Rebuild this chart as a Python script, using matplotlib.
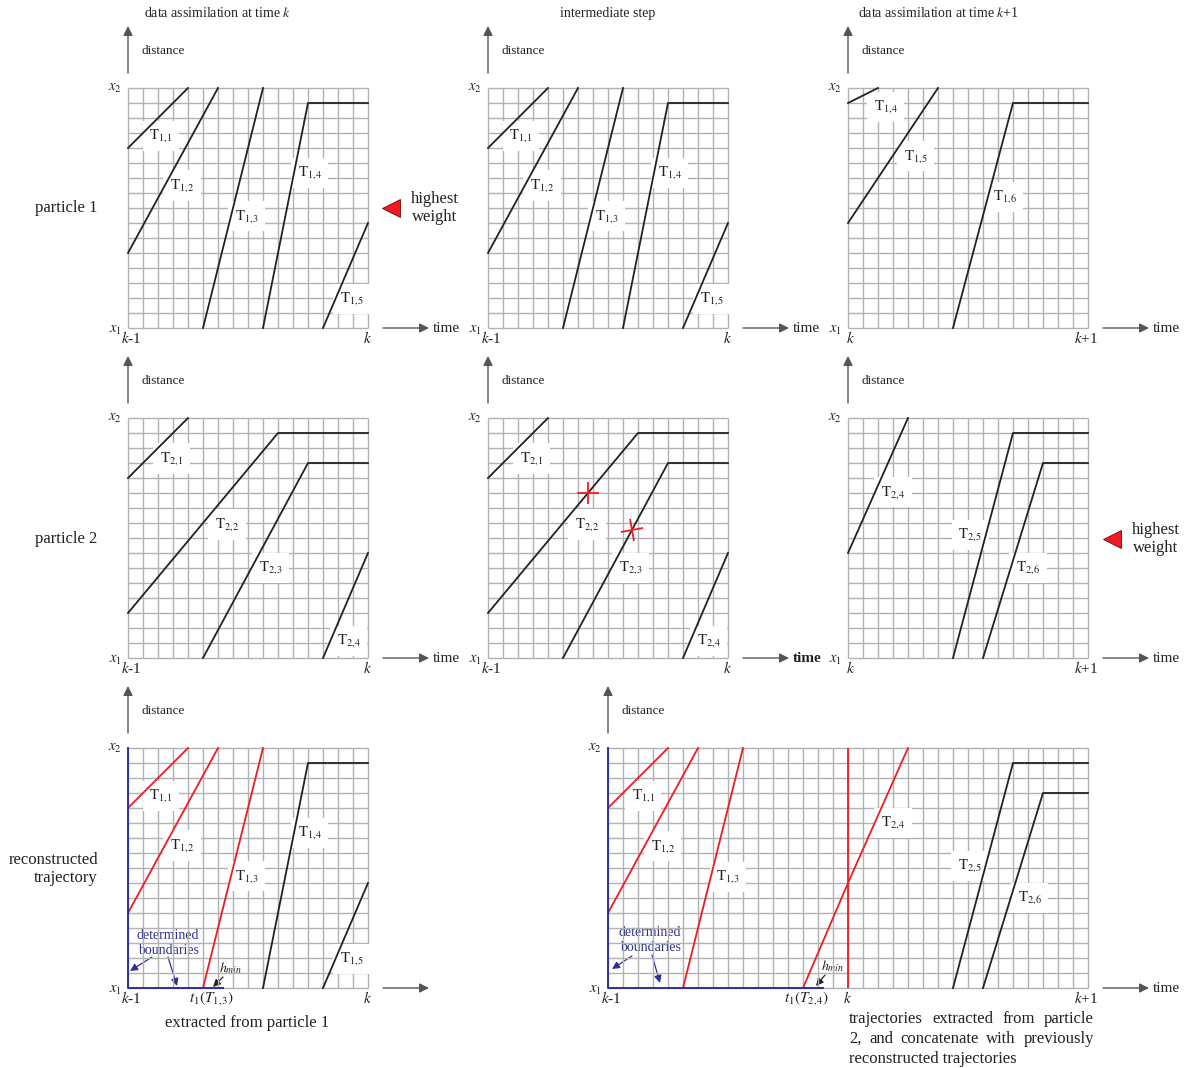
import matplotlib

matplotlib.use("Agg")
import matplotlib.pyplot as plt
from matplotlib.markers import MarkerStyle
from matplotlib.transforms import Affine2D

W, H = 1194, 1068
CELL = 15

# ---- data (time / distance in grid cells) ----
n_rows = 16
n_cols = 16
n_cols_wide = 32
h_min = 1.3

# particle 1, window k-1 .. k
p1_k_names = ["1,1", "1,2", "1,3", "1,4", "1,5"]
p1_k_t = [[0, 4], [0, 6], [5, 9], [9, 12, 16], [13, 16]]
p1_k_x = [[12, 16], [5, 16], [0, 16], [0, 15, 15], [0, 7]]
p1_k_lab = [(2.2, 12.8), (3.6, 9.5), (7.9, 7.45), (12.1, 10.35), (14.9, 1.95)]

# particle 1, window k .. k+1
p1_k1_names = ["1,4", "1,5", "1,6"]
p1_k1_t = [[0, 2], [0, 6], [7, 11, 16]]
p1_k1_x = [[15, 16], [7, 16], [0, 15, 15]]
p1_k1_lab = [(2.5, 14.75), (4.5, 11.45), (10.45, 8.75)]

# particle 2, window k-1 .. k
p2_k_names = ["2,1", "2,2", "2,3", "2,4"]
p2_k_t = [[0, 4], [0, 10, 16], [5, 12, 16], [13, 16]]
p2_k_x = [[12, 16], [3, 15, 15], [0, 13, 13], [0, 7]]
p2_k_lab = [(2.9, 13.3), (6.6, 8.9), (9.5, 6.0), (14.7, 1.15)]

# cuts marked on particle 2 in the intermediate step
cut_t = [6.67, 9.6]
cut_x = [11, 8.54]
cut_rot = [0, 12]

# particle 2, window k .. k+1
p2_k1_names = ["2,4", "2,5", "2,6"]
p2_k1_t = [[0, 4], [7, 11, 16], [9, 13, 16]]
p2_k1_x = [[7, 16], [0, 15, 15], [0, 13, 13]]
p2_k1_lab = [(3.0, 11.05), (8.15, 8.2), (12.0, 6.0)]

# reconstruction from particle 1
rec1_kept = [True, True, True, False, False]
t1_T13 = 5

# reconstruction over k-1 .. k+1
rec2_names = ["1,1", "1,2", "1,3", "2,4", "2,5", "2,6"]
rec2_t = [[0, 4], [0, 6], [5, 9], [13, 16, 20], [23, 27, 32], [25, 29, 32]]
rec2_x = [[12, 16], [5, 16], [0, 16], [0, 7, 16], [0, 15, 15], [0, 13, 13]]
rec2_kept = [True, True, True, True, False, False]
rec2_lab = [(2.35, 12.8), (3.65, 9.45), (8.0, 7.4), (19.0, 11.0), (24.1, 8.15), (28.1, 6.0)]
t1_T24 = 13
k_line = 16

GRID = "#b2b2b2"
INK = "#222222"
RED = "#ee1c24"
BLUE = "#2e3192"
ARROW = "#555555"

plt.rcParams["font.family"] = ["Liberation Serif", "DejaVu Serif"]
plt.rcParams["mathtext.fontset"] = "stix"

fig = plt.figure(figsize=(W / 100, H / 100), dpi=100)


def panel(left, top, ncols):
    ax = fig.add_axes([left / W, 1 - (top + n_rows * CELL) / H,
                       ncols * CELL / W, n_rows * CELL / H])
    ax.set_xlim(0, ncols)
    ax.set_ylim(0, n_rows)
    ax.axis("off")
    ax.vlines(range(ncols + 1), 0, n_rows, color=GRID, lw=1.0, zorder=1, clip_on=False)
    ax.hlines(range(n_rows + 1), 0, ncols, color=GRID, lw=1.0, zorder=1, clip_on=False)
    return ax


def draw_traj(ax, ts, xs, names, labs, kept=None):
    for i, (t, x) in enumerate(zip(ts, xs)):
        c = RED if kept is not None and kept[i] else INK
        ax.plot(t, x, color=c, lw=1.3, zorder=4, clip_on=False)
    for name, (lx, ly) in zip(names, labs):
        sub = name.replace(",", r",\!")
        ax.text(lx, ly, r"$\mathrm{T}_{%s}$" % sub, ha="center", va="center",
                fontsize=10.5, color=INK, zorder=3,
                bbox=dict(boxstyle="square,pad=0.45", fc="white", ec="none"))


ov = fig.add_axes([0, 0, 1, 1])
ov.set_xlim(0, W)
ov.set_ylim(H, 0)
ov.axis("off")


def arrow(tail, tip, color=ARROW, lw=1.0, ms=14):
    ov.annotate("", xy=tip, xytext=tail,
                arrowprops=dict(arrowstyle="-|>", color=color, lw=lw,
                                mutation_scale=ms, shrinkA=0, shrinkB=0))


def frame(left, top, ncols, left_lab, right_lab, time_lab="time", bold=False):
    bottom = top + n_rows * CELL
    right = left + ncols * CELL
    arrow((left, top - 15), (left, top - 62))
    ov.text(left + 13, top - 37, "distance", fontsize=9.5, color=INK, va="center")
    arrow((right + 15, bottom), (right + 61, bottom))
    if time_lab:
        ov.text(right + 65, bottom, time_lab, fontsize=11, color=INK, va="center",
                fontweight="bold" if bold else "normal")
    ov.text(left - 13, top, r"$x_2$", fontsize=10.5, color=INK, ha="center", va="center")
    ov.text(left - 13, bottom + 2, r"$x_1$", fontsize=10.5, color=INK, ha="center", va="center")
    ov.text(left + 3, bottom + 10, left_lab, fontsize=11, color=INK, ha="center", va="center")
    ov.text(right - (2 if "+" in right_lab else 0), bottom + 10, right_lab,
            fontsize=11, color=INK, ha="center", va="center")


cols = [128, 488, 848]
rows = [88, 418, 748]

# row 1: particle 1
ax = panel(cols[0], rows[0], n_cols)
draw_traj(ax, p1_k_t, p1_k_x, p1_k_names, p1_k_lab)
frame(cols[0], rows[0], n_cols, r"$k$-1", r"$k$")
ax = panel(cols[1], rows[0], n_cols)
draw_traj(ax, p1_k_t, p1_k_x, p1_k_names, p1_k_lab)
frame(cols[1], rows[0], n_cols, r"$k$-1", r"$k$")
ax = panel(cols[2], rows[0], n_cols)
draw_traj(ax, p1_k1_t, p1_k1_x, p1_k1_names, p1_k1_lab)
frame(cols[2], rows[0], n_cols, r"$k$", r"$k$+1")

# row 2: particle 2
ax = panel(cols[0], rows[1], n_cols)
draw_traj(ax, p2_k_t, p2_k_x, p2_k_names, p2_k_lab)
frame(cols[0], rows[1], n_cols, r"$k$-1", r"$k$")
ax = panel(cols[1], rows[1], n_cols)
draw_traj(ax, p2_k_t, p2_k_x, p2_k_names, p2_k_lab)
for ct, cx, cr in zip(cut_t, cut_x, cut_rot):
    m = MarkerStyle("+", transform=Affine2D().rotate_deg(cr))
    ax.plot(ct, cx, marker=m, ms=16, mew=1.3, color=RED, zorder=5)
frame(cols[1], rows[1], n_cols, r"$k$-1", r"$k$", bold=True)
ax = panel(cols[2], rows[1], n_cols)
draw_traj(ax, p2_k1_t, p2_k1_x, p2_k1_names, p2_k1_lab)
frame(cols[2], rows[1], n_cols, r"$k$", r"$k$+1")

# row 3: reconstruction
ax = panel(cols[0], rows[2], n_cols)
draw_traj(ax, p1_k_t, p1_k_x, p1_k_names, p1_k_lab, kept=rec1_kept)
ax.plot([0, 0, t1_T13 + h_min], [n_rows, 0, 0], color=BLUE, lw=1.4, zorder=5, clip_on=False)
frame(cols[0], rows[2], n_cols, r"$k$-1", r"$k$", time_lab=None)

ax = panel(608, rows[2], n_cols_wide)
draw_traj(ax, rec2_t, rec2_x, rec2_names, rec2_lab, kept=rec2_kept)
ax.plot([k_line, k_line], [0, n_rows], color=RED, lw=1.3, zorder=4)
ax.plot([0, 0, t1_T24 + h_min], [n_rows, 0, 0], color=BLUE, lw=1.4, zorder=5, clip_on=False)
frame(608, rows[2], n_cols_wide, r"$k$-1", r"$k$+1")
ov.text(848, 998, r"$k$", fontsize=11, color=INK, ha="center", va="center")

# bottom-row annotations
for (tx, ty), arrs, (hx, hy), harr, (lx, lab) in [
    ((168, 943), [((152, 957), (130, 971)), ((168, 957), (177, 986))],
     (231, 968), ((223, 977), (213, 987)), (211, r"$t_1(T_{1,\!3})$")),
    ((650, 940), [((632, 956), (612, 969)), ((652, 955), (660, 983))],
     (833, 966), ((825, 975), (816, 986)), (806, r"$t_1(T_{2,\!4})$")),
]:
    ov.text(tx, ty, "determined\nboundaries", fontsize=10, color=BLUE,
            ha="center", va="center", linespacing=1.15)
    for a, b in arrs:
        arrow(a, b, color=BLUE, lw=0.9, ms=11)
    ov.text(hx, hy, r"$h_{min}$", fontsize=10, color=INK, ha="center", va="center")
    arrow(harr[0], harr[1], color=INK, lw=0.9, ms=11)
    ov.text(lx, 998, lab, fontsize=11, color=INK, ha="center", va="center")

# titles and row labels
ov.text(218, 13, r"data assimilation at time $k$", fontsize=10, color=INK, ha="center", va="center")
ov.text(608, 13, "intermediate step", fontsize=10, color=INK, ha="center", va="center")
ov.text(938, 13, r"data assimilation at time $k$+1", fontsize=10, color=INK, ha="center", va="center")
ov.text(66, 208, "particle 1", fontsize=12, color=INK, ha="center", va="center")
ov.text(66, 539, "particle 2", fontsize=12, color=INK, ha="center", va="center")
ov.text(98, 869, "reconstructed\ntrajectory", fontsize=12, color=INK, ha="right",
        va="center", multialignment="right", linespacing=1.2)

# highest weight markers
for (mx, my), (wx, wy) in [((391, 208), (435, 208)), ((1112, 539), (1156, 539))]:
    ov.plot(mx, my, marker="<", ms=13, color=RED, mec="#7a0000", mew=0.6)
    ov.text(wx, wy, "highest\nweight", fontsize=12, color=INK, ha="center",
            va="center", linespacing=1.1)

ov.text(247, 1023, "extracted from particle 1", fontsize=12, color=INK, ha="center", va="center")

# justified caption on the right
caption = ["trajectories extracted from particle",
           "2, and concatenate with previously",
           "reconstructed trajectories"]
x0, x1 = 849, 1094
renderer = fig.canvas.get_renderer()
for i, line in enumerate(caption):
    y = 1019 + 20 * i
    words = line.split()
    if i == len(caption) - 1:
        ov.text(x0, y, line, fontsize=12, color=INK, ha="left", va="center")
        continue
    texts = [ov.text(0, y, w, fontsize=12, color=INK, ha="left", va="center") for w in words]
    widths = [t.get_window_extent(renderer).width for t in texts]
    gap = (x1 - x0 - sum(widths)) / (len(words) - 1)
    x = x0
    for t, wd in zip(texts, widths):
        t.set_x(x)
        x += wd + gap

fig.savefig("out.png", dpi=100)
plt.close(fig)
